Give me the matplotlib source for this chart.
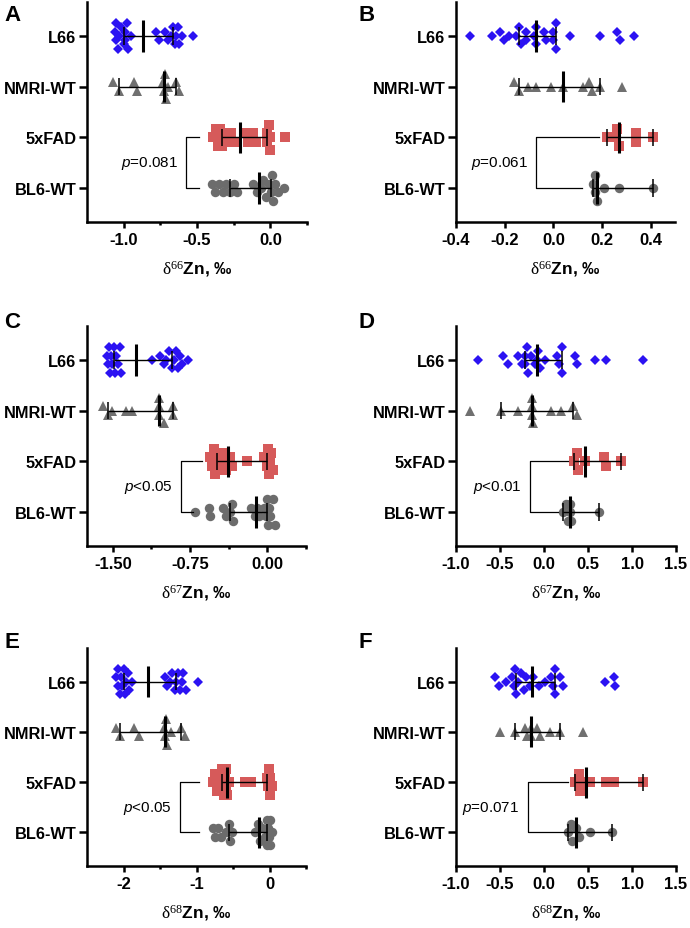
import numpy as np
import matplotlib
matplotlib.use("Agg")
import matplotlib.pyplot as plt
from math import comb

plt.rcParams['font.family'] = ['Liberation Sans', 'DejaVu Sans']
plt.rcParams['mathtext.fontset'] = 'custom'
plt.rcParams['mathtext.rm'] = 'Liberation Serif'
plt.rcParams['mathtext.sf'] = 'Liberation Sans:italic'
plt.rcParams['mathtext.it'] = 'Liberation Sans:italic'
plt.rcParams['axes.unicode_minus'] = False

# ---------------- data ----------------
groups = ["L66", "NMRI-WT", "5xFAD", "BL6-WT"]
panel_letters = ["A", "B", "C", "D", "E", "F"]
isotopes = ["66", "66", "67", "67", "68", "68"]
p_texts = ["=0.081", "=0.061", "<0.05", "<0.01", "<0.05", "=0.071"]

A_L66 = [-1.06, -1.05, -1.05, -1.04, -1.03, -1.02, -1.00, -0.99, -0.99, -0.98, -0.97, -0.95,
         -0.78, -0.76, -0.72, -0.70, -0.68, -0.666, -0.65, -0.64, -0.63, -0.62, -0.60, -0.53]
A_NMRI = [-1.07, -1.035, -0.93, -0.91, -0.73, -0.725, -0.72, -0.71, -0.70, -0.64, -0.625]
A_5xFAD = [-0.39, -0.37, -0.36, -0.35, -0.34, -0.328, -0.31, -0.29, -0.27, -0.25,
           -0.168, -0.15, -0.12, -0.10, -0.026, -0.02, -0.01, -0.005, 0.0, 0.10]
A_BL6 = [-0.40, -0.38, -0.35, -0.32, -0.30, -0.277, -0.25, -0.23, -0.12, -0.09,
         -0.065, -0.05, -0.03, -0.01, 0.003, 0.01, 0.02, 0.03, 0.05, 0.094]

B_L66 = [-0.343, -0.253, -0.22, -0.202, -0.184, -0.154, -0.143, -0.133, -0.113, -0.113, -0.081, -0.071,
         -0.071, -0.04, -0.03, -0.003, 0.0, 0.011, 0.011, 0.07, 0.19, 0.261, 0.272, 0.331]
B_NMRI = [-0.161, -0.14, -0.103, -0.071, -0.01, 0.038, 0.121, 0.148, 0.16, 0.19, 0.283]
B_5xFAD = [0.22, 0.25, 0.26, 0.27, 0.34, 0.34, 0.41]
B_BL6 = [0.165, 0.17, 0.172, 0.178, 0.21, 0.27, 0.41]

C_L66 = [-1.56, -1.55, -1.54, -1.53, -1.52, -1.51, -1.49, -1.48, -1.47, -1.45, -1.43, -1.42,
         -1.124, -1.04, -1.00, -0.98, -0.95, -0.929, -0.91, -0.89, -0.87, -0.85, -0.83, -0.77]
C_NMRI = [-1.59, -1.549, -1.506, -1.376, -1.31, -1.05, -1.05, -1.05, -1.00, -0.919, -0.915]
C_5xFAD = [-0.56, -0.54, -0.52, -0.51, -0.50, -0.488, -0.46, -0.44, -0.42, -0.40,
           -0.36, -0.34, -0.20, -0.03, 0.0, 0.01, 0.02, 0.03, 0.04, 0.05]
C_BL6 = [-0.70, -0.57, -0.56, -0.43, -0.40, -0.358, -0.34, -0.33, -0.16, -0.12,
         -0.105, -0.08, -0.03, -0.01, 0.0, 0.01, 0.02, 0.03, 0.05, 0.07]

D_L66 = [-0.75, -0.47, -0.41, -0.29, -0.25, -0.22, -0.216, -0.19, -0.18, -0.15, -0.10, -0.08,
         -0.072, -0.05, 0.01, 0.15, 0.17, 0.20, 0.21, 0.35, 0.38, 0.58, 0.71, 1.12]
D_NMRI = [-0.84, -0.49, -0.30, -0.14, -0.137, -0.136, -0.13, 0.08, 0.19, 0.326, 0.37]
D_5xFAD = [0.345, 0.38, 0.39, 0.466, 0.68, 0.70, 0.875]
D_BL6 = [0.22, 0.25, 0.27, 0.295, 0.30, 0.31, 0.625]

E_L66 = [-2.10, -2.08, -2.07, -2.05, -2.04, -2.02, -2.00, -1.98, -1.96, -1.94, -1.92, -1.88,
         -1.436, -1.40, -1.36, -1.33, -1.30, -1.279, -1.25, -1.22, -1.20, -1.18, -1.15, -0.98]
E_NMRI = [-2.10, -2.046, -1.85, -1.79, -1.44, -1.425, -1.42, -1.40, -1.35, -1.21, -1.164]
E_5xFAD = [-0.78, -0.75, -0.72, -0.70, -0.68, -0.648, -0.63, -0.61, -0.60, -0.59,
           -0.578, -0.55, -0.34, -0.25, -0.032, -0.02, -0.01, 0.0, 0.01, 0.03]
E_BL6 = [-0.78, -0.74, -0.70, -0.66, -0.60, -0.548, -0.54, -0.52, -0.20, -0.16,
         -0.132, -0.10, -0.06, -0.04, -0.032, -0.02, -0.01, 0.0, 0.01, 0.03]

F_L66 = [-0.56, -0.51, -0.43, -0.36, -0.34, -0.33, -0.318, -0.29, -0.26, -0.23, -0.21, -0.16,
         -0.12, -0.06, 0.01, 0.08, 0.10, 0.125, 0.13, 0.18, 0.22, 0.69, 0.79, 0.81]
F_NMRI = [-0.50, -0.33, -0.22, -0.197, -0.15, -0.148, -0.083, -0.05, 0.068, 0.182, 0.44]
F_5xFAD = [0.352, 0.40, 0.41, 0.42, 0.526, 0.71, 0.80, 1.13]
F_BL6 = [0.277, 0.31, 0.32, 0.364, 0.40, 0.52, 0.77]

panel_data = [
    [A_L66, A_NMRI, A_5xFAD, A_BL6],
    [B_L66, B_NMRI, B_5xFAD, B_BL6],
    [C_L66, C_NMRI, C_5xFAD, C_BL6],
    [D_L66, D_NMRI, D_5xFAD, D_BL6],
    [E_L66, E_NMRI, E_5xFAD, E_BL6],
    [F_L66, F_NMRI, F_5xFAD, F_BL6],
]

# ---------------- layout / style ----------------
W, H = 690, 929
fig = plt.figure(figsize=(W / 100, H / 100), dpi=100)

# (left, right, top, bottom) in pixels
boxes = [(87, 307, 3, 223), (456, 675, 3, 223),
         (87, 306, 327, 547), (456, 676, 327, 547),
         (87, 306, 649, 867), (456, 676, 649, 867)]
xlims = [(-1.25, 0.25), (-0.4, 0.5), (-1.75, 0.375), (-1.0, 1.5), (-2.5, 0.5), (-1.0, 1.5)]
major = [[-1.0, -0.5, 0.0], [-0.4, -0.2, 0.0, 0.2, 0.4], [-1.5, -0.75, 0.0],
         [-1.0, -0.5, 0.0, 0.5, 1.0, 1.5], [-2, -1, 0], [-1.0, -0.5, 0.0, 0.5, 1.0, 1.5]]
major_lbl = [["-1.0", "-0.5", "0.0"], ["-0.4", "-0.2", "0.0", "0.2", "0.4"],
             ["-1.50", "-0.75", "0.00"], ["-1.0", "-0.5", "0.0", "0.5", "1.0", "1.5"],
             ["-2", "-1", "0"], ["-1.0", "-0.5", "0.0", "0.5", "1.0", "1.5"]]
minor = [[-0.75, -0.25, 0.25], [], [-1.125, -0.375, 0.375], [], [-1.5, -0.5, 0.5], []]
# bracket: (x of vertical line, x end of top arm, x end of bottom arm)
brackets = [(-0.572, -0.487, -0.487), (-0.07, 0.187, 0.117), (-0.84, -0.637, -0.724),
            (-0.159, 0.269, 0.163), (-1.223, -0.968, -0.968), (-0.185, 0.269, 0.26)]
letter_pos = [(4, 5), (358, 5), (4, 312), (358, 312), (4, 632), (358, 632)]

colors = ["#2b12f2", "#707070", "#d65a5a", "#6c6c6c"]
markers = ["D", "^", "s", "o"]
msizes = [5.2, 7.2, 6.6, 6.8]
YLIM = (3.67, -0.67)
ROW_PX = 220 / (YLIM[0] - YLIM[1])


def ci_ranks(n):
    k = 0
    cum = 0
    for j in range(n):
        cum += comb(n, j)
        if cum / 2 ** n <= 0.025:
            k = j + 1
        else:
            break
    return max(k, 1)


def swarm(vals, ppu, step_px=8.5, bin_px=5.5, max_col=4):
    """Prism-like column stacking: points close in x share a centred column."""
    vals = np.asarray(vals, float)
    order = np.argsort(vals, kind="stable")
    offs = np.zeros(len(vals))
    bins = []
    for idx in order:
        if (bins and len(bins[-1]) < max_col
                and (vals[idx] - vals[bins[-1][0]]) * ppu < bin_px):
            bins[-1].append(idx)
        else:
            bins.append([idx])
    for b in bins:
        k = len(b)
        cand = [(i - (k - 1) / 2.0) for i in range(k)]
        cand.sort(key=lambda c: (abs(c), c))
        for idx, c in zip(b, cand):
            offs[idx] = c * step_px / ROW_PX
    return offs


for p in range(6):
    l, r, t, b = boxes[p]
    ax = fig.add_axes([l / W, 1 - b / H, (r - l) / W, (b - t) / H])
    ax.set_xlim(*xlims[p])
    ax.set_ylim(*YLIM)
    ppu = (r - l) / (xlims[p][1] - xlims[p][0])
    for spn in ["top", "right"]:
        ax.spines[spn].set_visible(False)
    for spn in ["left", "bottom"]:
        ax.spines[spn].set_linewidth(1.8)
    ax.set_yticks(range(4))
    ax.set_yticklabels(groups, fontsize=11.8, fontweight="bold")
    ax.tick_params(axis="y", length=6, width=1.8, pad=1.5)
    ax.set_xticks(major[p])
    ax.set_xticklabels(major_lbl[p], fontsize=12, fontweight="bold")
    ax.set_xticks(minor[p], minor=True)
    ax.tick_params(axis="x", which="major", length=4, width=1.8, pad=3)
    ax.tick_params(axis="x", which="minor", length=2.2, width=1.8)
    ax.set_xlabel(r"$\mathrm{δ^{" + isotopes[p] + r"}}$Zn, ‰", fontsize=12.5,
                  fontweight="bold", labelpad=8)

    for g, vals in enumerate(panel_data[p]):
        v = np.asarray(vals, float)
        off = swarm(v, ppu)
        ax.plot(v, g + off, linestyle="none", marker=markers[g], ms=msizes[g],
                color=colors[g], markeredgewidth=0, zorder=2, clip_on=False)
        s = np.sort(v)
        n = len(s)
        k = ci_ranks(n)
        lo, hi = s[k - 1], s[n - k]
        med = np.median(s)
        ax.hlines(g, lo, hi, color="black", lw=1.0, zorder=3)
        ax.vlines([lo, hi], g - 0.17, g + 0.17, color="black", lw=1.1, zorder=3)
        ax.vlines(med, g - 0.31, g + 0.31, color="black", lw=2.2, zorder=3)

    xv, xt, xb = brackets[p]
    ax.plot([xt, xv, xv, xb], [2, 2, 3, 3], color="black", lw=0.9, zorder=3)
    ax.annotate(r"$\mathsf{p}$" + p_texts[p], xy=(xv, 2.5), xytext=(-6, 0),
                textcoords="offset points", ha="right", va="center", fontsize=11)

    lx, ly = letter_pos[p]
    fig.text(lx / W, 1 - ly / H, panel_letters[p], fontsize=16, fontweight="bold",
             ha="left", va="top")

fig.savefig("out.png", dpi=100)
